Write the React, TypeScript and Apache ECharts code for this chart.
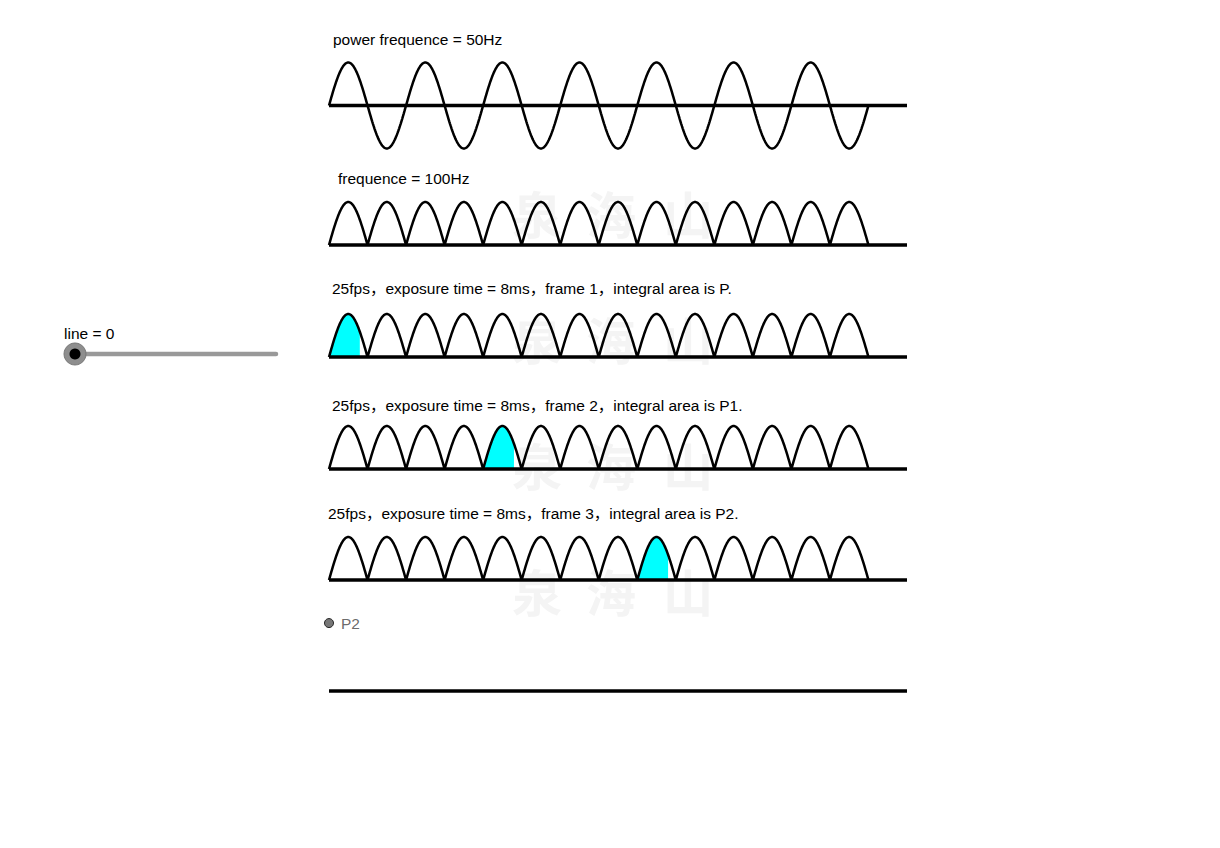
import { useEffect, useRef } from "react";
import * as echarts from "echarts";

// ---- data ----
const POWER_FREQ_HZ = 50; // mains sine
const FLICKER_FREQ_HZ = 100; // rectified light intensity
const CURVE_END_MS = 140; // curves drawn from 0 to 140 ms
const AXIS_END_MS = 150; // baselines reach 150 ms
const EXPOSURE_MS = 8;
const FRAME_STARTS_MS = [0, 40, 80]; // 25 fps -> 40 ms apart
const ROW_LABELS = [
  "power frequence = 50Hz",
  "frequence = 100Hz",
  "25fps，exposure time = 8ms，frame 1，integral area is P.",
  "25fps，exposure time = 8ms，frame 2，integral area is P1.",
  "25fps，exposure time = 8ms，frame 3，integral area is P2.",
];
const SLIDER_LABEL = "line = 0";
const POINT_VALUE = [0, 1.58];
const POINT_LABEL = "P2";
const WATERMARK_CHARS = ["泉", "海", "山"];

// ---- layout ----
const LEFT = 329;
const WIDTH = 578;
const AMP = 43;
const BASELINES = [105.5, 245, 357, 469, 580, 691];
const LABEL_POS = [
  [333, 39],
  [338, 178],
  [332, 288],
  [332, 405],
  [328, 513],
];
const WM_ROWS = [212, 338, 464, 590];
const WM_COLS = [537, 611, 688];
const FONT = "Arial, 'Liberation Sans', 'Noto Sans CJK SC', sans-serif";

function sample(fn: (t: number) => number, from: number, to: number, step = 0.2) {
  const out: number[][] = [];
  const n = Math.round((to - from) / step);
  for (let i = 0; i <= n; i++) {
    const t = from + ((to - from) * i) / n;
    out.push([t, fn(t)]);
  }
  return out;
}

const sineAt = (t: number) => Math.sin((2 * Math.PI * POWER_FREQ_HZ * t) / 1000);
const rectAt = (t: number) => Math.abs(Math.sin((Math.PI * FLICKER_FREQ_HZ * t) / 1000));

export default function App() {
  const ref = useRef<HTMLDivElement>(null);
  useEffect(() => {
    if (!ref.current) return;
    const chart = echarts.init(ref.current, undefined, { renderer: "svg" });

    const grids: any[] = [];
    const xAxes: any[] = [];
    const yAxes: any[] = [];
    BASELINES.forEach((b, i) => {
      const top = b - AMP;
      const height = i === 0 ? 2 * AMP : AMP;
      grids.push({ left: LEFT, top, width: WIDTH, height, containLabel: false });
      xAxes.push({ gridIndex: i, type: "value", min: 0, max: AXIS_END_MS, show: false });
      yAxes.push({ gridIndex: i, type: "value", min: i === 0 ? -1 : 0, max: 1, show: false });
    });

    const series: any[] = [];
    // cyan exposure areas
    FRAME_STARTS_MS.forEach((s, k) => {
      const gi = 2 + k;
      series.push({
        type: "line",
        xAxisIndex: gi,
        yAxisIndex: gi,
        data: sample(rectAt, s, s + EXPOSURE_MS, 0.1),
        symbol: "none",
        lineStyle: { width: 0 },
        areaStyle: { color: "#00ffff", opacity: 1 },
        silent: true,
        clip: false,
        z: 1,
      });
    });
    // curves
    series.push({
      type: "line",
      xAxisIndex: 0,
      yAxisIndex: 0,
      data: sample(sineAt, 0, CURVE_END_MS),
      symbol: "none",
      lineStyle: { color: "#000", width: 2.5 },
      silent: true,
      clip: false,
      z: 2,
    });
    for (let gi = 1; gi <= 4; gi++) {
      series.push({
        type: "line",
        xAxisIndex: gi,
        yAxisIndex: gi,
        data: sample(rectAt, 0, CURVE_END_MS),
        symbol: "none",
        lineStyle: { color: "#000", width: 2.5 },
        silent: true,
        clip: false,
        z: 2,
      });
    }
    // baselines
    BASELINES.forEach((_, gi) => {
      series.push({
        type: "line",
        xAxisIndex: gi,
        yAxisIndex: gi,
        data: [
          [0, 0],
          [AXIS_END_MS, 0],
        ],
        symbol: "none",
        lineStyle: { color: "#000", width: 3.5 },
        silent: true,
        clip: false,
        z: 3,
      });
    });
    // point P2
    series.push({
      type: "scatter",
      xAxisIndex: 5,
      yAxisIndex: 5,
      data: [POINT_VALUE],
      symbol: "circle",
      symbolSize: 9,
      itemStyle: { color: "#555", borderColor: "#000", borderWidth: 1 },
      label: {
        show: true,
        position: "right",
        distance: 7,
        formatter: POINT_LABEL,
        color: "#444",
        fontSize: 15.5,
        fontFamily: FONT,
      },
      silent: true,
      clip: false,
      z: 4,
    });

    const graphic: any[] = [];
    WM_ROWS.forEach((y) => {
      WM_COLS.forEach((x, ci) => {
        graphic.push({
          type: "text",
          x,
          y,
          z: -10,
          silent: true,
          style: {
            text: WATERMARK_CHARS[ci],
            fill: "#f4f4f4",
            font: "bold 50px 'Noto Sans CJK SC'",
            textAlign: "center",
            textVerticalAlign: "middle",
          },
        });
      });
    });
    ROW_LABELS.forEach((t, i) => {
      graphic.push({
        type: "text",
        x: LABEL_POS[i][0],
        y: LABEL_POS[i][1],
        silent: true,
        style: {
          text: t,
          fill: "#000",
          font: `15.5px ${FONT}`,
          textAlign: "left",
          textVerticalAlign: "middle",
        },
      });
    });
    // slider
    graphic.push(
      {
        type: "text",
        x: 64,
        y: 333,
        style: { text: SLIDER_LABEL, fill: "#000", font: `15.5px ${FONT}`, textVerticalAlign: "middle" },
      },
      {
        type: "line",
        shape: { x1: 75, y1: 354, x2: 276, y2: 354 },
        style: { stroke: "#999", lineWidth: 4.5, lineCap: "round" },
      },
      {
        type: "circle",
        shape: { cx: 75, cy: 354, r: 11 },
        style: { fill: "#8e8e8e", stroke: "#777", lineWidth: 1 },
      },
      {
        type: "circle",
        shape: { cx: 75, cy: 354, r: 5.5 },
        style: { fill: "#000" },
      }
    );

    chart.setOption({
      animation: false,
      backgroundColor: "#fff",
      grid: grids,
      xAxis: xAxes,
      yAxis: yAxes,
      series,
      graphic,
    });
    return () => chart.dispose();
  }, []);
  return (
    <div
      ref={ref}
      style={{ position: "fixed", left: 0, top: 0, width: 1220, height: 848 }}
    />
  );
}
